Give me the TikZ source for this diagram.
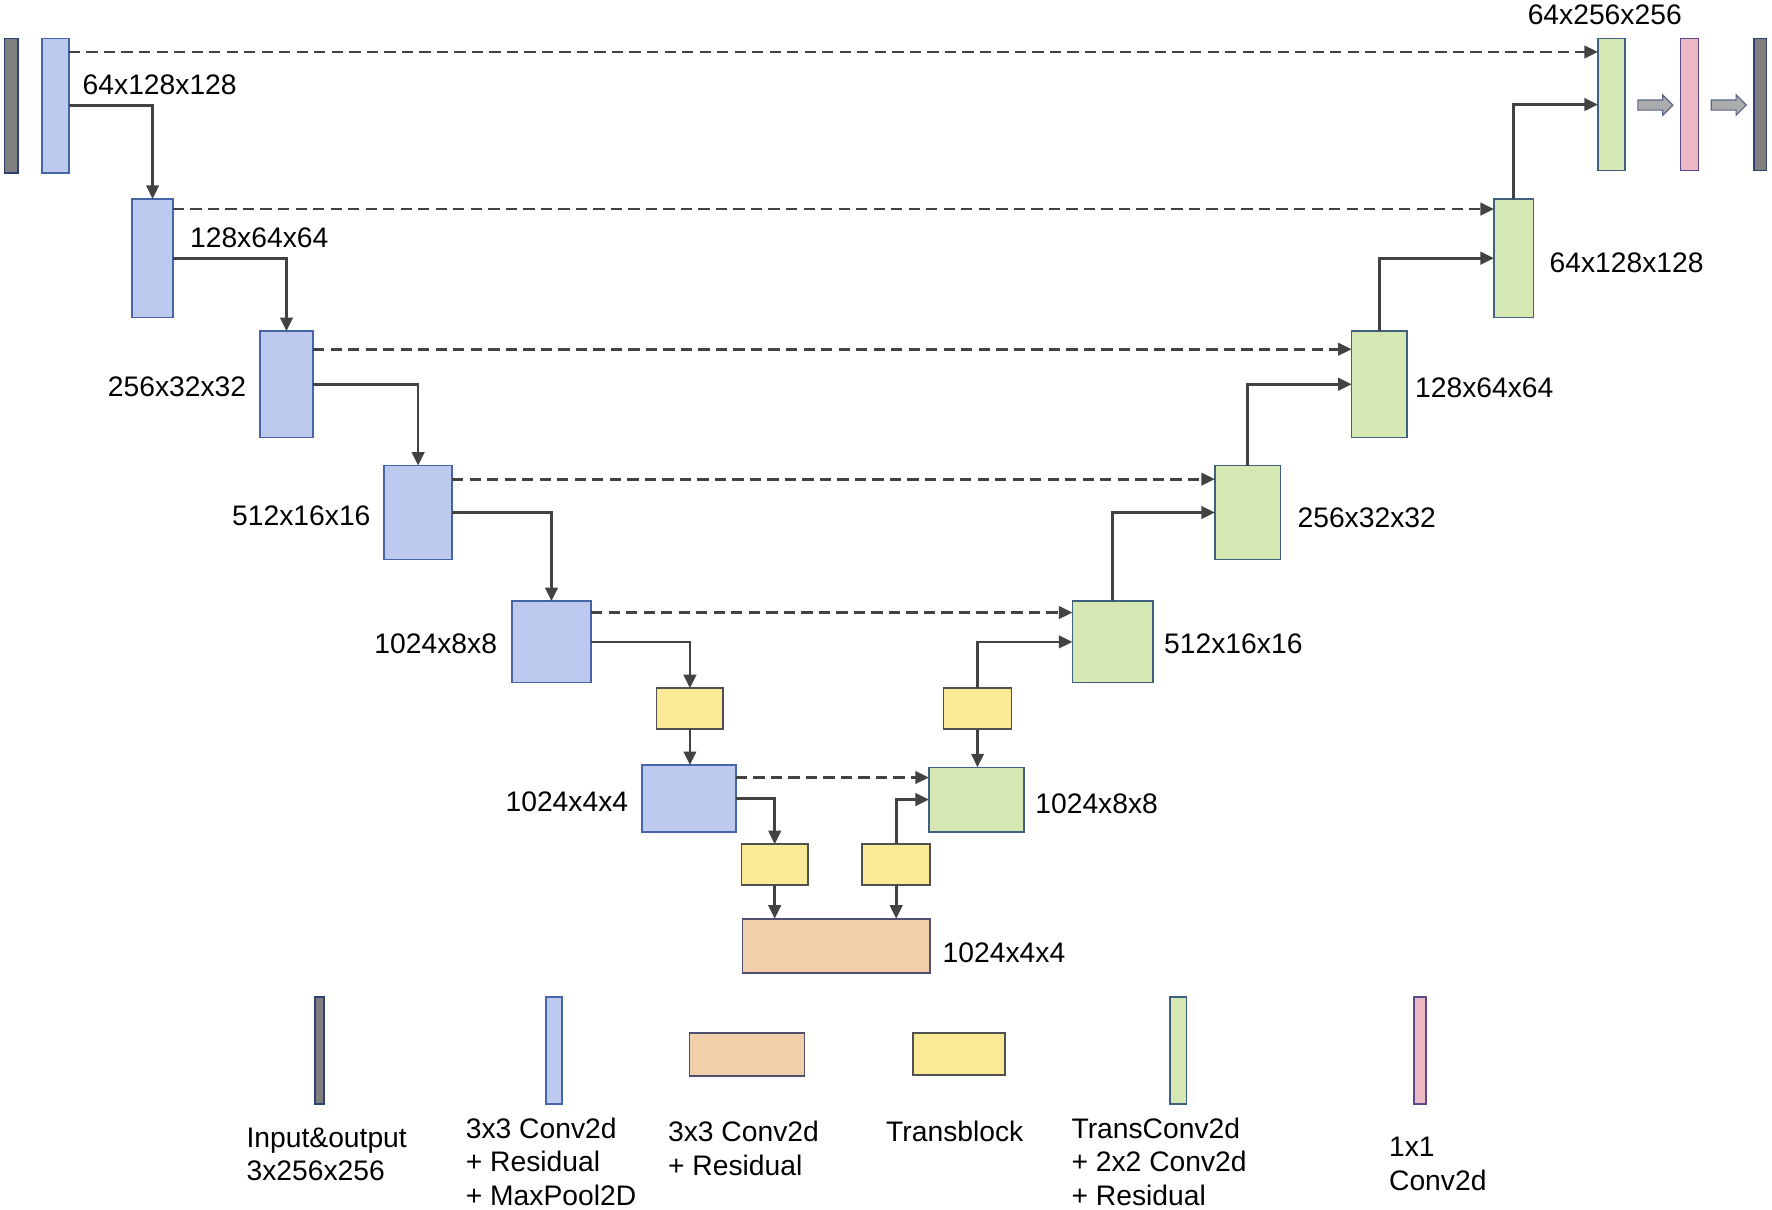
\documentclass[tikz,border=0pt]{standalone}
\usepackage{fontspec}
\setmainfont{Liberation Sans}
\usetikzlibrary{arrows.meta,shapes.arrows}
\definecolor{bfill}{HTML}{BDC9ED}\definecolor{bdraw}{HTML}{4565A8}
\definecolor{gfill}{HTML}{D5E8B4}\definecolor{gdraw}{HTML}{40607F}
\definecolor{yfill}{HTML}{FAEA96}\definecolor{ydraw}{HTML}{505050}
\definecolor{ofill}{HTML}{F2CFAB}\definecolor{odraw}{HTML}{4F5070}
\definecolor{pfill}{HTML}{EBB8C3}\definecolor{pdraw}{HTML}{5A4A8A}
\definecolor{kfill}{HTML}{7F7F7F}\definecolor{kdraw}{HTML}{2F3F6F}
\definecolor{conc}{HTML}{424242}
\tikzset{
  blk/.style={rectangle,inner sep=0pt,outer sep=0pt,line width=1.5pt},
  bluebox/.style={blk,fill=bfill,draw=bdraw},
  greenbox/.style={blk,fill=gfill,draw=gdraw},
  yellowbox/.style={blk,fill=yfill,draw=ydraw},
  orangebox/.style={blk,fill=ofill,draw=odraw},
  pinkbox/.style={blk,fill=pfill,draw=pdraw},
  graybox/.style={blk,fill=kfill,draw=kdraw},
  conn/.style={draw=conc,line width=2.4pt,-{Triangle[length=12pt,width=11pt]}},
  skipc/.style={conn,dash pattern=on 10pt off 5.5pt},
  lbl/.style={inner sep=0pt,font=\fontsize{25}{30}\selectfont},
  legtxt/.style={lbl,align=left,anchor=base west},
  fatarrow/.style={single arrow,fill=gray!65,draw=kdraw!80,line width=1pt,inner sep=4pt,
     minimum height=31pt,minimum width=17pt,single arrow head extend=4.5pt,outer sep=0pt}
}
\begin{document}
\begin{tikzpicture}[x=1pt,y=-1pt]
\useasboundingbox (0,0) rectangle (1568,1070);
% encoder
\node[graybox,minimum width=12pt,minimum height=119pt] (IN) at (10,93.5) {};
\node[bluebox,minimum width=24pt,minimum height=119pt] (E1) at (49,93.5) {};
\node[bluebox,minimum width=36pt,minimum height=105pt] (E2) at (135,228.5) {};
\node[bluebox,minimum width=47pt,minimum height=94pt] (E3) at (253.5,340) {};
\node[bluebox,minimum width=60pt,minimum height=83pt] (E4) at (370,453.5) {};
\node[bluebox,minimum width=70pt,minimum height=72pt] (E5) at (488,568) {};
\node[yellowbox,minimum width=59pt,minimum height=36pt] (T1) at (610.5,627) {};
\node[bluebox,minimum width=83pt,minimum height=59pt] (E6) at (609.5,706.5) {};
\node[yellowbox,minimum width=59pt,minimum height=36pt] (T2) at (685.5,765) {};
\node[orangebox,minimum width=166pt,minimum height=48pt] (B) at (740,837) {};
% decoder
\node[yellowbox,minimum width=60pt,minimum height=36pt] (T3) at (793,765) {};
\node[greenbox,minimum width=84pt,minimum height=57pt] (D6) at (864,707.5) {};
\node[yellowbox,minimum width=60pt,minimum height=36pt] (T4) at (865,627) {};
\node[greenbox,minimum width=71pt,minimum height=72pt] (D5) at (984.5,568) {};
\node[greenbox,minimum width=58pt,minimum height=83pt] (D4) at (1104,453.5) {};
\node[greenbox,minimum width=49pt,minimum height=94pt] (D3) at (1220.5,340) {};
\node[greenbox,minimum width=35pt,minimum height=105pt] (D2) at (1339.5,228.5) {};
\node[greenbox,minimum width=24pt,minimum height=117pt] (D1) at (1426,92.5) {};
\node[pinkbox,minimum width=16pt,minimum height=117pt] (P) at (1495,92.5) {};
\node[graybox,minimum width=11pt,minimum height=117pt] (OUT) at (1557.5,92.5) {};
\node[fatarrow] (A1) at (1462.5,93) {};
\node[fatarrow] (A2) at (1527.5,93) {};
% labels
\node[lbl,anchor=base west] (L1) at (73,84) {64x128x128};
\node[lbl,anchor=base west] (L2) at (168,219) {128x64x64};
\node[lbl,anchor=base east] (L3) at (218,351) {256x32x32};
\node[lbl,anchor=base east] (L4) at (328,465) {512x16x16};
\node[lbl,anchor=base east] (L5) at (440,578) {1024x8x8};
\node[lbl,anchor=base east] (L6) at (556,718) {1024x4x4};
\node[lbl,anchor=base west] (LB) at (834,852) {1024x4x4};
\node[lbl,anchor=base west] (LD6) at (916,720) {1024x8x8};
\node[lbl,anchor=base west] (LD5) at (1030,578) {512x16x16};
\node[lbl,anchor=base west] (LD4) at (1148,467) {256x32x32};
\node[lbl,anchor=base west] (LD3) at (1252,352) {128x64x64};
\node[lbl,anchor=base west] (LD2) at (1371,241) {64x128x128};
\node[lbl,anchor=base] (LD1) at (1420,22) {64x256x256};
% encoder connectors
\draw[conn] (E1.east) -| (E2.north);
\draw[conn] (E2.east) -| (E3.north);
\draw[conn] (E3.east) -| (E4.north);
\draw[conn] (E4.east) -| (E5.north);
\draw[conn] (E5.east) -| (T1.north);
\draw[conn] (T1.south) -- (T1.south |- E6.north);
\draw[conn] (E6.east) -| (T2.north);
\draw[conn] (T2.south) -- (T2.south |- B.north);
\draw[conn] (T3.south) -- (T3.south |- B.north);
% decoder connectors
\draw[conn] (T3.north) |- (D6.west);
\draw[conn] (T4.south) -- (T4.south |- D6.north);
\draw[conn] (T4.north) |- (D5.west);
\draw[conn] (D5.north) |- (D4.west);
\draw[conn] (D4.north) |- (D3.west);
\draw[conn] (D3.north) |- (D2.west);
\draw[conn] (D2.north) |- (D1.west);
% skip connections
\draw[skipc] ([yshift=-12pt]E1.north east) -- ([yshift=-12pt]E1.north east -| D1.west);
\draw[skipc] ([yshift=-9pt]E2.north east) -- ([yshift=-9pt]E2.north east -| D2.west);
\draw[skipc] ([yshift=-16pt]E3.north east) -- ([yshift=-16pt]E3.north east -| D3.west);
\draw[skipc] ([yshift=-12pt]E4.north east) -- ([yshift=-12pt]E4.north east -| D4.west);
\draw[skipc] ([yshift=-10pt]E5.north east) -- ([yshift=-10pt]E5.north east -| D5.west);
\draw[skipc] ([yshift=-11pt]E6.north east) -- ([yshift=-11pt]E6.north east -| D6.west);
% legend
\node[graybox,minimum width=8pt,minimum height=95pt] (G1) at (283,929.5) {};
\node[bluebox,minimum width=14pt,minimum height=95pt] (G2) at (490,929.5) {};
\node[orangebox,minimum width=102pt,minimum height=38pt] (G3) at (661,933) {};
\node[yellowbox,minimum width=81pt,minimum height=37pt] (G4) at (848.5,932.5) {};
\node[greenbox,minimum width=15pt,minimum height=95pt] (G5) at (1042.5,929.5) {};
\node[pinkbox,minimum width=11pt,minimum height=95pt] (G6) at (1256.5,929.5) {};
\node[legtxt] (GT1) at (218,1045) {Input\&output\\3x256x256};
\node[legtxt] (GT2) at (412,1067) {3x3 Conv2d\\+ Residual\\+ MaxPool2D};
\node[legtxt] (GT3) at (591,1040) {3x3 Conv2d\\+ Residual};
\node[legtxt] (GT4) at (784,1010) {Transblock};
\node[legtxt] (GT5) at (948,1067) {TransConv2d\\+ 2x2 Conv2d\\+ Residual};
\node[legtxt] (GT6) at (1229,1053) {1x1\\Conv2d};
\end{tikzpicture}
\end{document}
